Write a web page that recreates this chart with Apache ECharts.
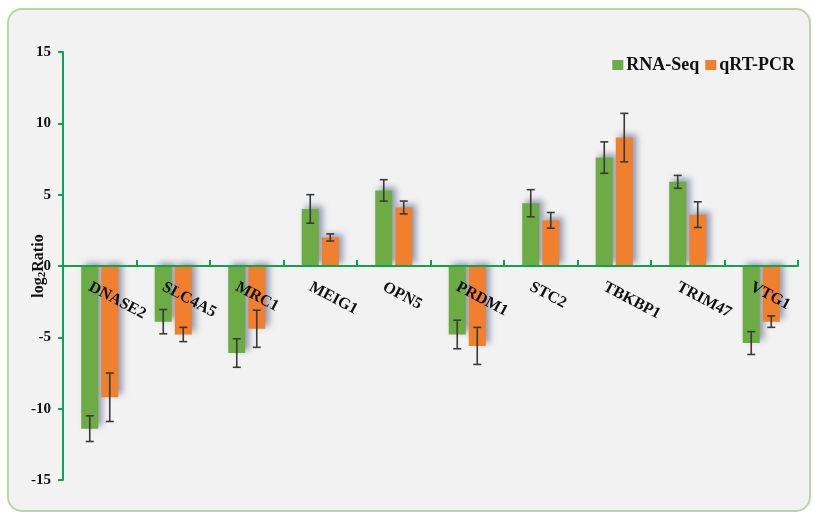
<!DOCTYPE html>
<html>
<head>
<meta charset="utf-8">
<script src="https://cdn.jsdelivr.net/npm/echarts@6/dist/echarts.min.js"></script>
<style>
  html, body { margin: 0; padding: 0; background: #fff; }
  #main { width: 813px; height: 523px; }
</style>
</head>
<body>
<div id="main"></div>
<script>
// gene names along the x axis
var genes = ['DNASE2', 'SLC4A5', 'MRC1', 'MEIG1', 'OPN5', 'PRDM1', 'STC2', 'TBKBP1', 'TRIM47', 'VTG1'];
// log2 ratio
var rnaSeq    = [-11.4, -3.9, -6.1, 4.0, 5.3, -4.8, 4.4, 7.6, 5.9, -5.4];
var rnaSeqErr = [0.9, 0.85, 1.0, 1.0, 0.75, 1.0, 0.95, 1.1, 0.45, 0.8];
var qpcr      = [-9.2, -4.8, -4.4, 2.0, 4.1, -5.6, 3.2, 9.0, 3.6, -3.9];
var qpcrErr   = [1.7, 0.5, 1.3, 0.25, 0.45, 1.3, 0.55, 1.7, 0.9, 0.4];
var yTicks = [-15, -10, -5, 0, 5, 10, 15];

var serif = '"Liberation Serif", "Times New Roman", serif';
var axisGreen = '#13a24c';

function errData(vals, errs) {
    var out = [];
    for (var i = 0; i < vals.length; i++) {
        out.push([i, vals[i] - errs[i], vals[i] + errs[i]]);
    }
    return out;
}

function errRender(offset) {
    return function (params, api) {
        var lo = api.coord([api.value(0), api.value(1)]);
        var hi = api.coord([api.value(0), api.value(2)]);
        var x = lo[0] + offset;
        var cap = 4;
        var st = { stroke: '#3a3a3a', lineWidth: 1.6 };
        return {
            type: 'group',
            children: [
                { type: 'line', shape: { x1: x, y1: lo[1], x2: x, y2: hi[1] }, style: st },
                { type: 'line', shape: { x1: x - cap, y1: lo[1], x2: x + cap, y2: lo[1] }, style: st },
                { type: 'line', shape: { x1: x - cap, y1: hi[1], x2: x + cap, y2: hi[1] }, style: st }
            ]
        };
    };
}

// gene names sit just under the zero line, slanted
function nameRender(params, api) {
    var p = api.coord([api.value(0), 0]);
    return {
        type: 'text',
        x: p[0] - 10,
        y: p[1] + 20,
        rotation: -28 * Math.PI / 180,
        style: {
            text: genes[api.value(0)],
            align: 'left',
            verticalAlign: 'middle',
            font: 'bold 16px ' + serif,
            fill: '#111'
        }
    };
}

var chart = echarts.init(document.getElementById('main'));

var barShadow = {
    shadowColor: 'rgba(70, 80, 120, 0.55)',
    shadowBlur: 6,
    shadowOffsetX: 4,
    shadowOffsetY: -3
};

option = {
    backgroundColor: '#ffffff',
    animation: false,
    graphic: [{
        type: 'rect',
        z: -10,
        silent: true,
        shape: { x: 8, y: 9, width: 802, height: 502, r: 14 },
        style: { fill: '#f2f2f2', stroke: '#bcd49e', lineWidth: 2 }
    }],
    legend: {
        top: 51,
        right: 13,
        itemWidth: 11,
        itemHeight: 10,
        itemGap: 6,
        icon: 'rect',
        data: ['RNA-Seq', 'qRT-PCR'],
        textStyle: { fontFamily: serif, fontWeight: 'bold', fontSize: 18, color: '#111', padding: [0, 0, 0, -2] }
    },
    grid: {
        left: 63,
        right: 15,
        top: 52,
        bottom: 43,
        outerBoundsMode: 'none'
    },
    xAxis: {
        type: 'category',
        data: genes,
        z: 10,
        axisLine: { onZero: true, lineStyle: { color: axisGreen, width: 2 } },
        axisTick: { show: true, inside: true, length: 6, lineStyle: { color: axisGreen, width: 2 } },
        axisLabel: { show: false },
        splitLine: { show: false }
    },
    yAxis: {
        type: 'value',
        min: yTicks[0],
        max: yTicks[yTicks.length - 1],
        interval: 5,
        name: '{a|log}{b|2}{a|Ratio}',
        nameLocation: 'middle',
        nameGap: 15,
        nameRotate: 90,
        nameMoveOverlap: false,
        nameTextStyle: {
            rich: {
                a: { fontFamily: serif, fontWeight: 'bold', fontSize: 16, color: '#111' },
                b: { fontFamily: serif, fontWeight: 'bold', fontSize: 11, color: '#111', verticalAlign: 'bottom', padding: [8, 0, 0, 0] }
            }
        },
        axisLine: { show: true, lineStyle: { color: axisGreen, width: 2 } },
        axisTick: { show: true, length: 5, lineStyle: { color: axisGreen, width: 2 } },
        axisLabel: {
            margin: 12,
            fontFamily: serif,
            fontWeight: 'bold',
            fontSize: 15,
            color: '#111'
        },
        splitLine: { show: false }
    },
    series: [
        {
            name: 'RNA-Seq',
            type: 'bar',
            data: rnaSeq,
            barWidth: 17,
            barGap: '18%',
            itemStyle: Object.assign({ color: '#6dab45' }, barShadow)
        },
        {
            name: 'qRT-PCR',
            type: 'bar',
            data: qpcr,
            barWidth: 17,
            itemStyle: Object.assign({ color: '#f07f2e' }, barShadow)
        },
        {
            type: 'custom',
            z: 5,
            silent: true,
            renderItem: errRender(-10),
            encode: { x: 0, y: [1, 2] },
            data: errData(rnaSeq, rnaSeqErr)
        },
        {
            type: 'custom',
            z: 5,
            silent: true,
            renderItem: errRender(10),
            encode: { x: 0, y: [1, 2] },
            data: errData(qpcr, qpcrErr)
        },
        {
            type: 'custom',
            z: 8,
            silent: true,
            renderItem: nameRender,
            encode: { x: 0, y: 1 },
            data: genes.map(function (g, i) { return [i, 0]; })
        }
    ]
};

chart.setOption(option);
</script>
</body>
</html>
